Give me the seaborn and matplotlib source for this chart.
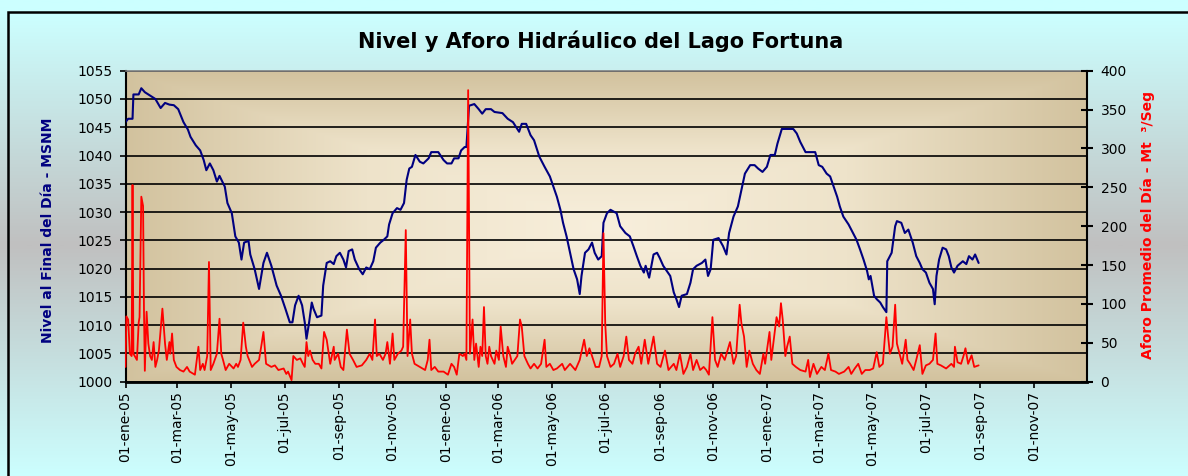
import matplotlib

matplotlib.use("Agg")
import matplotlib.pyplot as plt  # noqa: E402
import numpy as np  # noqa: E402
import pandas as pd  # noqa: E402
import seaborn as sns  # noqa: E402
from matplotlib.colors import LinearSegmentedColormap  # noqa: E402
from matplotlib.patches import Rectangle  # noqa: E402

# daily series, stored as day offset from START
START = "2005-01-01"

level_day = [
    0, 3, 8, 9, 15, 18, 22, 28, 34, 40, 45, 50, 55, 60, 66, 71, 74, 80, 85, 89,
    92, 96, 100, 104, 107, 113, 116, 121, 125, 129, 132, 135, 140, 142, 147, 152, 157, 161, 166, 172,
    177, 182, 187, 190, 193, 197, 201, 204, 206, 209, 212, 214, 218, 223, 225, 229, 233, 237, 240, 244,
    248, 251, 254, 258, 261, 266, 270, 274, 278, 282, 285, 290, 294, 298, 300, 304, 309, 313, 317, 320,
    323, 326, 330, 335, 339, 345, 348, 356, 362, 366, 371, 374, 379, 382, 386, 388, 391, 397, 402, 406,
    410, 416, 420, 429, 435, 441, 448, 451, 456, 461, 465, 471, 477, 483, 487, 491, 495, 498, 502, 506,
    510, 514, 517, 519, 523, 527, 531, 534, 538, 542, 544, 548, 552, 559, 563, 569, 574, 578, 582, 586,
    590, 592, 596, 601, 605, 608, 612, 616, 620, 624, 627, 630, 633, 639, 643, 646, 650, 656, 660, 663,
    666, 669, 675, 680, 684, 687, 692, 697, 701, 705, 711, 716, 720, 725, 730, 734, 739, 742, 747, 753,
    760, 764, 768, 774, 785, 789, 793, 798, 802, 806, 810, 813, 817, 823, 828, 832, 836, 840, 844, 846,
    848, 852, 855, 859, 862, 866, 867, 872, 876, 878, 883, 887, 891, 896, 900, 904, 907, 911, 915, 919,
    921, 923, 926, 930, 934, 937, 940, 943, 947, 953, 957, 960, 964, 967, 971,
]
level_m = [
    1045.9, 1046.5, 1046.5, 1050.8, 1050.8, 1051.9, 1051.2, 1050.6, 1050.0, 1048.4,
    1049.3, 1049.0, 1048.9, 1048.2, 1045.9, 1044.6, 1043.3, 1041.8, 1040.9, 1039.2,
    1037.4, 1038.6, 1037.4, 1035.4, 1036.4, 1034.5, 1031.6, 1029.8, 1025.7, 1024.6,
    1021.6, 1024.6, 1024.9, 1022.5, 1019.9, 1016.4, 1021.0, 1022.8, 1020.5, 1017.0,
    1015.2, 1012.9, 1010.5, 1010.5, 1013.5, 1015.2, 1013.5, 1010.5, 1007.6, 1010.5,
    1014.0, 1012.9, 1011.4, 1011.7, 1017.0, 1021.0, 1021.3, 1020.8, 1022.2, 1022.8,
    1021.6, 1020.2, 1023.1, 1023.4, 1021.6, 1019.9, 1019.0, 1020.2, 1019.9, 1021.3,
    1023.7, 1024.6, 1025.1, 1025.7, 1027.8, 1029.8, 1030.7, 1030.4, 1031.6, 1035.7,
    1037.7, 1038.0, 1040.1, 1038.9, 1038.6, 1039.5, 1040.6, 1040.6, 1039.2, 1038.6,
    1038.6, 1039.5, 1039.5, 1040.9, 1041.5, 1041.5, 1048.8, 1049.1, 1048.2, 1047.4,
    1048.2, 1048.2, 1047.7, 1047.5, 1046.5, 1045.9, 1044.2, 1045.6, 1045.6, 1043.6,
    1042.7, 1039.8, 1038.0, 1036.3, 1034.5, 1032.7, 1030.4, 1028.1, 1025.7, 1022.8,
    1019.9, 1018.1, 1015.5, 1018.7, 1022.8, 1023.4, 1024.6, 1022.8, 1021.6, 1022.2,
    1028.1, 1029.8, 1030.4, 1029.8, 1027.5, 1026.3, 1025.7, 1024.0, 1022.2, 1020.5,
    1019.3, 1020.5, 1018.4, 1022.5, 1022.8, 1021.9, 1020.5, 1019.6, 1018.7, 1015.8,
    1014.6, 1013.2, 1015.2, 1015.5, 1017.5, 1019.9, 1020.5, 1021.0, 1021.6, 1018.7,
    1019.9, 1025.1, 1025.4, 1024.0, 1022.5, 1026.3, 1029.2, 1031.0, 1033.9, 1036.8,
    1038.3, 1038.3, 1037.7, 1037.1, 1038.0, 1040.1, 1040.1, 1042.1, 1044.7, 1044.7,
    1044.7, 1043.9, 1042.4, 1040.6, 1040.6, 1038.3, 1038.0, 1036.8, 1036.3, 1034.5,
    1032.7, 1031.0, 1029.2, 1027.8, 1026.3, 1025.1, 1023.4, 1021.6, 1019.6, 1018.1,
    1018.7, 1015.2, 1014.6, 1014.0, 1013.2, 1012.3, 1021.3, 1022.8, 1027.5, 1028.4,
    1028.1, 1026.3, 1026.9, 1024.6, 1022.2, 1021.0, 1019.9, 1019.3, 1017.5, 1016.4,
    1013.7, 1018.7, 1021.6, 1023.7, 1023.4, 1022.2, 1020.2, 1019.3, 1020.5, 1021.3,
    1020.8, 1022.2, 1021.6, 1022.5, 1021.0,
]

flow_day = [
    0, 1, 3, 5, 7, 8, 9, 13, 15, 16, 18, 20, 21, 22, 24, 26, 28, 30, 32, 34,
    36, 38, 42, 45, 47, 50, 51, 53, 55, 58, 62, 66, 70, 73, 79, 83, 85, 88, 90, 93,
    95, 97, 100, 104, 107, 109, 111, 114, 118, 123, 126, 128, 131, 134, 137, 139, 144, 147, 152, 155,
    157, 159, 160, 166, 170, 174, 180, 183, 185, 189, 191, 195, 199, 202, 204, 206, 208, 210, 213, 216,
    220, 223, 226, 229, 233, 237, 238, 242, 245, 248, 252, 255, 259, 263, 269, 274, 278, 281, 284, 286,
    289, 293, 296, 298, 301, 304, 306, 310, 314, 316, 319, 321, 324, 326, 329, 335, 341, 344, 346, 348,
    352, 356, 362, 367, 371, 374, 377, 380, 384, 386, 388, 390, 392, 395, 397, 399, 402, 404, 406, 408,
    410, 412, 414, 416, 420, 422, 425, 427, 430, 433, 435, 438, 440, 443, 446, 449, 451, 454, 458, 461,
    465, 469, 473, 477, 479, 483, 487, 491, 497, 500, 506, 512, 517, 522, 525, 528, 531, 535, 539, 542,
    544, 546, 548, 552, 556, 560, 563, 567, 570, 573, 577, 580, 584, 587, 591, 595, 601, 605, 609, 614,
    618, 624, 627, 631, 635, 639, 643, 646, 650, 654, 658, 661, 664, 668, 671, 674, 678, 682, 688, 692,
    695, 699, 701, 704, 707, 710, 714, 718, 722, 726, 728, 730, 733, 735, 741, 744, 746, 748, 751, 753,
    756, 759, 763, 768, 774, 777, 779, 783, 787, 792, 796, 800, 803, 808, 812, 818, 823, 826, 830, 834,
    838, 842, 847, 851, 855, 858, 862, 866, 868, 870, 873, 876, 878, 881, 884, 888, 890, 893, 897, 900,
    904, 907, 911, 915, 919, 922, 924, 928, 934, 940, 943, 944, 947, 951, 954, 956, 959, 963, 966, 971,
]
flow_m3s = [
    19, 84, 80, 36, 33, 253, 36, 28, 76, 83, 238, 226, 94, 14, 90, 49, 33, 28, 51, 19,
    28, 40, 94, 49, 28, 51, 36, 62, 28, 19, 15, 13, 19, 13, 9, 45, 15, 23, 15, 33,
    154, 15, 23, 36, 81, 36, 28, 15, 23, 17, 23, 19, 28, 76, 45, 33, 19, 23, 28, 49,
    64, 36, 23, 19, 21, 15, 17, 10, 13, 2, 33, 28, 30, 23, 19, 51, 33, 40, 28, 23,
    23, 17, 64, 54, 23, 45, 28, 36, 19, 15, 67, 36, 28, 19, 21, 28, 36, 28, 80, 33,
    36, 28, 36, 51, 23, 62, 28, 36, 40, 45, 195, 33, 80, 36, 23, 19, 15, 28, 54, 15,
    19, 13, 13, 9, 23, 19, 9, 36, 33, 36, 28, 375, 36, 80, 28, 49, 19, 45, 33, 96,
    33, 23, 45, 33, 23, 40, 28, 71, 33, 19, 45, 33, 23, 28, 33, 80, 71, 33, 23, 17,
    23, 17, 23, 54, 19, 23, 15, 17, 23, 15, 23, 15, 28, 54, 33, 43, 33, 19, 19, 33,
    191, 75, 33, 19, 23, 36, 19, 33, 58, 28, 23, 36, 45, 23, 54, 23, 58, 23, 19, 40,
    15, 23, 15, 36, 10, 19, 36, 15, 28, 15, 19, 15, 9, 83, 28, 19, 36, 28, 51, 23,
    33, 99, 75, 58, 19, 40, 23, 15, 10, 36, 23, 40, 64, 28, 83, 71, 101, 80, 33, 45,
    58, 23, 19, 15, 13, 28, 6, 23, 10, 19, 15, 36, 15, 13, 10, 13, 19, 10, 17, 23,
    10, 15, 15, 17, 38, 19, 23, 83, 58, 36, 45, 99, 49, 36, 23, 54, 28, 23, 15, 28,
    47, 10, 21, 23, 28, 62, 23, 21, 17, 23, 19, 45, 25, 23, 34, 43, 23, 34, 19, 21,
]

tick_dates = [
    "2005-01-01", "2005-03-01", "2005-05-01", "2005-07-01", "2005-09-01", "2005-11-01",
    "2006-01-01", "2006-03-01", "2006-05-01", "2006-07-01", "2006-09-01", "2006-11-01",
    "2007-01-01", "2007-03-01", "2007-05-01", "2007-07-01", "2007-09-01", "2007-11-01",
]
tick_labels = [
    "01-ene-05", "01-mar-05", "01-may-05", "01-jul-05", "01-sep-05", "01-nov-05",
    "01-ene-06", "01-mar-06", "01-may-06", "01-jul-06", "01-sep-06", "01-nov-06",
    "01-ene-07", "01-mar-07", "01-may-07", "01-jul-07", "01-sep-07", "01-nov-07",
]

W, H = 1188, 476

sns.set_style("white")
plt.rcParams["font.family"] = ["DejaVu Sans"]

base = pd.Timestamp(START)
level = pd.DataFrame({"fecha": base + pd.to_timedelta(level_day, unit="D"), "nivel": level_m})
flow = pd.DataFrame({"fecha": base + pd.to_timedelta(flow_day, unit="D"), "aforo": flow_m3s})

fig = plt.figure(figsize=(W / 100, H / 100), dpi=100)

# figure background: cyan at top/bottom, grey band in the middle
bg = fig.add_axes([0, 0, 1, 1], zorder=-5)
yy = np.linspace(0, 1, 400)
mid = 1 - 245 / H
dist = np.abs(yy - mid) / max(mid, 1 - mid)
bg_cmap = LinearSegmentedColormap.from_list("bg", ["#C0C0C0", "#CCFFFF"])
bg.imshow(dist[:, None], cmap=bg_cmap, aspect="auto", extent=[0, 1, 0, 1], origin="lower", vmin=0, vmax=0.95)
bg.set_xlim(0, 1)
bg.set_ylim(0, 1)
bg.axis("off")

# chart frame (only left and top edges fall inside the picture)
fig.add_artist(Rectangle((8 / W, -0.1), 1.2, 1 - 12 / H + 0.1, transform=fig.transFigure,
                         fill=False, edgecolor="black", lw=1.8))

ax = fig.add_axes([125.5 / W, 1 - 381.7 / H, 961.2 / W, 311 / H])
ax.set_facecolor("none")

# plot area: rectangular "from centre" fill, cream in the middle, tan at the edges
u, v = np.meshgrid(np.linspace(-1, 1, 500), np.linspace(-1, 1, 250))
t = np.maximum(np.abs(u), np.abs(v))
pa_cmap = LinearSegmentedColormap.from_list("pa", ["#F8EFDC", "#EEE3CA", "#D2C29E"])
ax.imshow(t, cmap=pa_cmap, aspect="auto", extent=[0, 1, 0, 1], transform=ax.transAxes, zorder=-2,
          vmin=0, vmax=1, interpolation="bilinear")

sns.lineplot(data=level, x="fecha", y="nivel", ax=ax, color="#000080", lw=1.5,
             estimator=None, legend=False, zorder=3)
ax2 = ax.twinx()
sns.lineplot(data=flow, x="fecha", y="aforo", ax=ax2, color="#FF0000", lw=1.3,
             estimator=None, legend=False, zorder=3)

ax.set_xlim(pd.Timestamp("2005-01-01"), pd.Timestamp("2007-12-31"))
ax.set_ylim(1000, 1055)
ax2.set_ylim(0, 400)
ax.set_yticks(range(1000, 1056, 5))
ax2.set_yticks(range(0, 401, 50))
ax.set_xticks(pd.to_datetime(tick_dates))
ax.set_xticklabels(tick_labels, rotation=90)

ax.set_axisbelow(True)
ax.yaxis.grid(True, color="black", lw=1.2)
ax.xaxis.grid(False)
ax2.grid(False)

for side in ["left", "bottom"]:
    ax.spines[side].set_color("black")
ax.spines["left"].set_linewidth(1.5)
ax.spines["bottom"].set_linewidth(2)
ax.spines["top"].set_color("#808080")
ax.spines["top"].set_linewidth(1.2)
ax.spines["right"].set_visible(False)
for side in ["left", "bottom", "top"]:
    ax2.spines[side].set_visible(False)
ax2.spines["right"].set_visible(True)
ax2.spines["right"].set_color("black")
ax2.spines["right"].set_linewidth(1.5)

ax.tick_params(axis="y", left=True, direction="out", length=4, width=1.2, pad=5.5,
               labelsize=10, color="black", labelcolor="black")
ax.tick_params(axis="x", bottom=True, direction="out", length=4, width=1.2, pad=2.7,
               labelsize=10, color="black", labelcolor="black")
ax2.tick_params(axis="y", right=True, direction="inout", length=8, width=1.5, pad=6,
                labelsize=10, color="black", labelcolor="black")

ax.set_xlabel("")
ax.set_ylabel("Nivel al Final del Día - MSNM", color="#000080", fontsize=10, fontweight="bold",
              va="center")
ax.yaxis.set_label_coords((48 - 125.5) / 961.2, (381.7 - 230) / 311)
ax2.set_ylabel("Aforo Promedio del Día - Mt  ³/Seg", color="#FF0000", fontsize=10,
               fontweight="bold", va="center", rotation=90)
ax2.yaxis.set_label_coords((1148 - 125.5) / 961.2, (381.7 - 225) / 311)

fig.text(601 / W, 1 - 41 / H, "Nivel y Aforo Hidráulico del Lago Fortuna", ha="center", va="center",
         fontsize=15, fontweight="bold", color="black")

fig.savefig("out.png", dpi=100)
plt.close(fig)
